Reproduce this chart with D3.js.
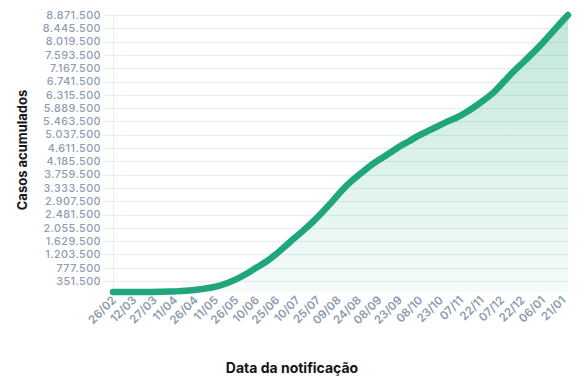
<!DOCTYPE html>
<html>
<head>
<meta charset="utf-8">
<script src="https://cdn.jsdelivr.net/npm/d3@7"></script>
<style>
  html, body { margin: 0; padding: 0; background: #ffffff; }
  svg { display: block; }
  text { font-family: Inter, "Noto Sans", sans-serif; }
</style>
</head>
<body>
<svg id="chart" width="577" height="381"></svg>
<script>
// ---- data ----
const dates = [
  "2020-02-26","2020-03-04","2020-03-11","2020-03-18","2020-03-25","2020-04-01","2020-04-08",
  "2020-04-15","2020-04-22","2020-04-29","2020-05-06","2020-05-13","2020-05-20","2020-05-27",
  "2020-06-03","2020-06-10","2020-06-17","2020-06-24","2020-07-01","2020-07-08","2020-07-15",
  "2020-07-22","2020-07-29","2020-08-05","2020-08-12","2020-08-19","2020-08-26","2020-09-02",
  "2020-09-09","2020-09-16","2020-09-23","2020-09-30","2020-10-07","2020-10-14","2020-10-21",
  "2020-10-28","2020-11-04","2020-11-11","2020-11-18","2020-11-25","2020-12-02","2020-12-09",
  "2020-12-16","2020-12-23","2020-12-30","2021-01-06","2021-01-13","2021-01-20","2021-01-25"
];
const cases = [
  1, 3, 50, 430, 2900, 6800, 16000,
  28000, 46000, 79000, 126000, 190000, 290000, 420000,
  585000, 775000, 960000, 1190000, 1450000, 1720000, 1980000,
  2260000, 2570000, 2900000, 3250000, 3550000, 3800000, 4050000,
  4250000, 4450000, 4650000, 4820000, 5000000, 5150000, 5300000,
  5450000, 5580000, 5750000, 5950000, 6170000, 6420000, 6740000,
  7060000, 7350000, 7650000, 7960000, 8300000, 8640000, 8871000
];
const yTicks = [351500, 777500, 1203500, 1629500, 2055500, 2481500, 2907500, 3333500,
  3759500, 4185500, 4611500, 5037500, 5463500, 5889500, 6315500, 6741500, 7167500,
  7593500, 8019500, 8445500, 8871500];
const xTickLabels = ["26/02","12/03","27/03","11/04","26/04","11/05","26/05","10/06","25/06",
  "10/07","25/07","09/08","24/08","08/09","23/09","08/10","23/10","07/11","22/11","07/12",
  "22/12","06/01","21/01"];
const xTickYears = [2020,2020,2020,2020,2020,2020,2020,2020,2020,2020,2020,2020,2020,2020,
  2020,2020,2020,2020,2020,2020,2020,2021,2021];
const yTitle = "Casos acumulados";
const xTitle = "Data da notificação";

// ---- setup ----
const parse = d3.timeParse("%Y-%m-%d");
const data = dates.map((d, i) => ({ date: parse(d), value: cases[i] }));
const xTickDates = xTickLabels.map((l, i) => d3.timeParse("%d/%m/%Y")(l + "/" + xTickYears[i]));

const locale = d3.formatLocale({ decimal: ",", thousands: ".", grouping: [3], currency: ["", ""] });
const fmt = locale.format(",d");

const svg = d3.select("#chart");
const mLeft = 113, mRight = 568, mTop = 15, mBottom = 292;

const x = d3.scaleTime().domain([data[0].date, data[data.length - 1].date]).range([mLeft, mRight]);
const y = d3.scaleLinear().domain([0, 8871500]).range([mBottom, mTop]);

const defs = svg.append("defs");
const grad = defs.append("linearGradient").attr("id", "fillGrad")
  .attr("gradientUnits", "userSpaceOnUse")
  .attr("x1", 0).attr("y1", mTop).attr("x2", 0).attr("y2", mBottom);
grad.append("stop").attr("offset", "0%").attr("stop-color", "#1fa67a").attr("stop-opacity", 0.28);
grad.append("stop").attr("offset", "100%").attr("stop-color", "#1fa67a").attr("stop-opacity", 0.04);

// gridlines
svg.append("g").selectAll("line").data(yTicks).join("line")
  .attr("x1", 103).attr("x2", mRight)
  .attr("y1", d => Math.round(y(d)) + 0.5).attr("y2", d => Math.round(y(d)) + 0.5)
  .attr("stroke", "#e2eefa").attr("stroke-width", 1);
svg.append("line").attr("x1", mLeft + 0.5).attr("x2", mLeft + 0.5).attr("y1", mTop).attr("y2", mBottom + 5)
  .attr("stroke", "#e2eefa").attr("stroke-width", 1);

// area
const area = d3.area().x(d => x(d.date)).y0(mBottom).y1(d => y(d.value)).curve(d3.curveMonotoneX);
svg.append("path").datum(data).attr("d", area).attr("fill", "url(#fillGrad)");

// line
const line = d3.line().x(d => x(d.date)).y(d => y(d.value)).curve(d3.curveMonotoneX);
svg.append("path").datum(data).attr("d", line)
  .attr("fill", "none").attr("stroke", "#1fa67a").attr("stroke-width", 6.5)
  .attr("stroke-linecap", "round").attr("stroke-linejoin", "round");

// y tick labels
svg.append("g").selectAll("text").data(yTicks).join("text")
  .attr("x", 101).attr("y", d => y(d)).attr("dy", "0.35em")
  .attr("text-anchor", "end").attr("fill", "#8e9bb0")
  .attr("font-size", 10.8).attr("font-weight", 500).attr("letter-spacing", 0.45)
  .text(d => fmt(d));

// x tick labels
svg.append("g").selectAll("text").data(xTickDates).join("text")
  .attr("transform", d => `translate(${x(d) + 1},${mBottom + 6}) rotate(-45)`)
  .attr("dy", "0.35em")
  .attr("text-anchor", "end").attr("fill", "#8e9bb0")
  .attr("font-size", 11.5).attr("font-weight", 600)
  .text((d, i) => xTickLabels[i]);

// titles
svg.append("text").attr("transform", `translate(27,150) rotate(-90)`)
  .attr("text-anchor", "middle").attr("fill", "#151515")
  .attr("font-size", 13).attr("font-weight", 700).text(yTitle);
svg.append("text").attr("x", 292).attr("y", 373)
  .attr("text-anchor", "middle").attr("fill", "#151515")
  .attr("font-size", 14).attr("font-weight", 700).text(xTitle);
</script>
</body>
</html>
